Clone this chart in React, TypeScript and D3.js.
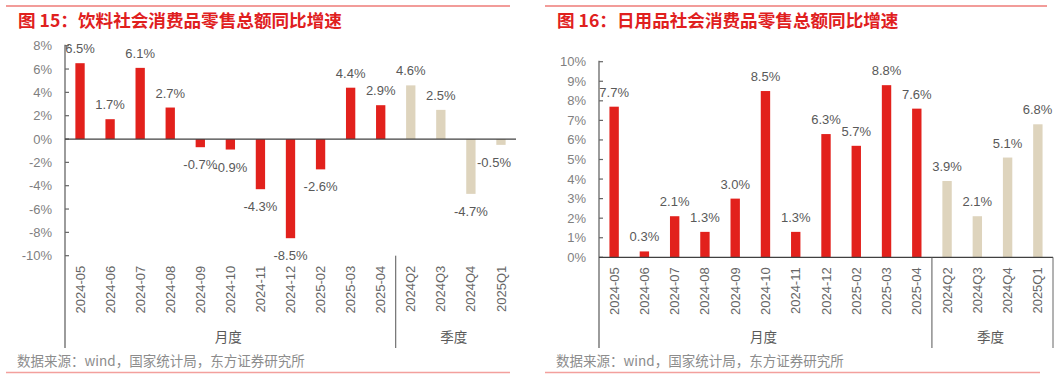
import React from "react";
import * as d3 from "d3";

const categories = [
  "2024-05", "2024-06", "2024-07", "2024-08", "2024-09", "2024-10", "2024-11",
  "2024-12", "2025-02", "2025-03", "2025-04", "2024Q2", "2024Q3", "2024Q4", "2025Q1",
];
const monthlyCount = 11;
const groupLabels = ["月度", "季度"];

const beverageValues = [6.5, 1.7, 6.1, 2.7, -0.7, -0.9, -4.3, -8.5, -2.6, 4.4, 2.9, 4.6, 2.5, -4.7, -0.5];
const dailyValues = [7.7, 0.3, 2.1, 1.3, 3.0, 8.5, 1.3, 6.3, 5.7, 8.8, 7.6, 3.9, 2.1, 5.1, 6.8];

const beverageTicks = [8, 6, 4, 2, 0, -2, -4, -6, -8, -10];
const dailyTicks = [10, 9, 8, 7, 6, 5, 4, 3, 2, 1, 0];

const title1 = "图 15：饮料社会消费品零售总额同比增速";
const title2 = "图 16：日用品社会消费品零售总额同比增速";
const source = "数据来源：wind，国家统计局，东方证券研究所";

const RED = "#e2211c";
const BEIGE = "#ded4bd";
const FONT = "'Liberation Sans', Arial, 'Noto Sans CJK SC', sans-serif";
const CJK = "'Noto Sans CJK SC', 'Liberation Sans', sans-serif";

type PanelProps = {
  values: number[];
  ticks: number[];
  domain: [number, number];
  x0: number;
  x1: number;
  yTop: number;
  yBottom: number;
  title: string;
  titleX: number;
  lineX0: number;
  lineX1: number;
  bottomLineX1: number;
  sourceX: number;
  rightBorder: boolean;
  labelMaxX: number;
};

function Panel(p: PanelProps) {
  const x = d3.scaleBand<string>().domain(categories).range([p.x0, p.x1]).padding(0);
  const y = d3.scaleLinear().domain(p.domain).range([p.yBottom, p.yTop]);
  const bw = x.bandwidth() * 0.31;
  const zeroY = y(0);
  const plotBottom = y(p.domain[0]);
  const groupBottom = 348;
  const sepX = x(categories[monthlyCount])!;
  const monthCenter = (p.x0 + sepX) / 2 - 2;
  const quarterCenter = (sepX + p.x1) / 2 - 2;

  return (
    <g>
      <line x1={p.lineX0} x2={p.lineX1} y1={6} y2={6} stroke="#e53a35" strokeWidth={1.2} />
      <text x={p.titleX} y={27} fill="#e0201e" fontSize={17.6} fontWeight="bold" fontFamily={CJK}>
        {p.title}
      </text>

      {/* bars */}
      {p.values.map((v, i) => {
        const cx = x(categories[i])! + x.bandwidth() / 2;
        const top = v >= 0 ? y(v) : zeroY;
        const h = Math.abs(y(v) - zeroY);
        return (
          <rect key={"b" + i} x={cx - bw / 2} y={top} width={bw} height={h}
            fill={i < monthlyCount ? RED : BEIGE} />
        );
      })}

      {/* value labels */}
      {p.values.map((v, i) => {
        const cx = x(categories[i])! + x.bandwidth() / 2;
        const label = v.toFixed(1) + "%";
        const halfW = label.length * 3.6;
        const lx = Math.min(cx, p.labelMaxX - halfW);
        const ly = v >= 0 ? y(v) - 10 : y(v) + 22;
        return (
          <text key={"l" + i} x={lx} y={ly} textAnchor="middle" fontSize={13}
            fill="#595959" fontFamily={FONT}>
            {label}
          </text>
        );
      })}

      {/* y axis */}
      <line x1={p.x0} x2={p.x0} y1={p.yTop - 1} y2={groupBottom} stroke="#666" strokeWidth={1.3} />
      {p.ticks.map((t) => (
        <g key={"t" + t}>
          <line x1={p.x0} x2={p.x0 + 4} y1={y(t)} y2={y(t)} stroke="#666" strokeWidth={1.2} />
          <text x={p.x0 - 13} y={y(t)} dy="0.35em" textAnchor="end" fontSize={13}
            fill="#7f7f7f" fontFamily={FONT}>
            {t + "%"}
          </text>
        </g>
      ))}

      {/* zero line */}
      <line x1={p.x0} x2={p.x1} y1={zeroY} y2={zeroY} stroke="#404040" strokeWidth={1.3} />

      {/* group separators */}
      <line x1={sepX} x2={sepX} y1={plotBottom} y2={groupBottom} stroke="#555" strokeWidth={1} />
      {p.rightBorder && (
        <line x1={p.x1} x2={p.x1} y1={plotBottom} y2={groupBottom} stroke="#666" strokeWidth={1} />
      )}

      {/* category labels */}
      {categories.map((c) => {
        const cx = x(c)! + x.bandwidth() / 2;
        return (
          <text key={"c" + c} transform={`translate(${cx},${plotBottom + 10}) rotate(-90)`}
            textAnchor="end" dy="0.35em" fontSize={13} fill="#666" fontFamily={FONT}>
            {c}
          </text>
        );
      })}

      <text x={monthCenter} y={337} dy="0.35em" textAnchor="middle" fontSize={13.5}
        fill="#595959" fontFamily={CJK}>{groupLabels[0]}</text>
      <text x={quarterCenter} y={337} dy="0.35em" textAnchor="middle" fontSize={13.5}
        fill="#595959" fontFamily={CJK}>{groupLabels[1]}</text>

      <text x={p.sourceX} y={366} fontSize={13.5} fill="#8c8c8c" fontFamily={CJK}>{source}</text>
      <line x1={p.lineX0} x2={p.bottomLineX1} y1={372.5} y2={372.5} stroke="#f3a09d" strokeWidth={1.3} />
    </g>
  );
}

export default function App() {
  return (
    <svg width={1061} height={379} style={{ position: "absolute", left: 0, top: 0, background: "#fff" }}>
      <rect x={0} y={0} width={1061} height={379} fill="#fff" />
      <Panel values={beverageValues} ticks={beverageTicks} domain={[-10, 8]}
        x0={65} x1={516} yTop={45.7} yBottom={255.7} title={title1} titleX={18}
        lineX0={6} lineX1={510} bottomLineX1={510} sourceX={17} rightBorder={false} labelMaxX={512} />
      <Panel values={dailyValues} ticks={dailyTicks} domain={[0, 10]}
        x0={599} x1={1053} yTop={61.7} yBottom={257.3} title={title2} titleX={557}
        lineX0={545} lineX1={1047} bottomLineX1={1040} sourceX={556} rightBorder={true} labelMaxX={1052} />
    </svg>
  );
}
